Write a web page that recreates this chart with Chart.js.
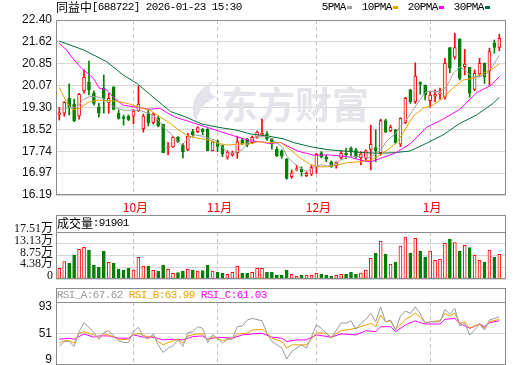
<!DOCTYPE html>
<html>
<head>
<meta charset="utf-8">
<title>同益中 688722</title>
<script src="https://cdn.jsdelivr.net/npm/chart.js@4.4.1/dist/chart.umd.min.js"></script>
<style>
  html, body { margin: 0; padding: 0; background: #fff; }
  #box { position: relative; width: 520px; height: 365px; overflow: hidden; }
  #box canvas { position: absolute; left: 0; }
</style>
</head>
<body>
<div id="box">
  <canvas id="priceChart" width="520" height="215" style="top:0px"></canvas>
  <canvas id="volChart" width="520" height="65" style="top:215px"></canvas>
  <canvas id="rsiChart" width="520" height="85" style="top:280px"></canvas>
</div>
<script>
// ===============================
// DATA
// ===============================
const open  = [19.05,19.09,19.62,19.42,19.00,19.88,20.21,19.82,19.30,19.98,
               19.47,20.03,19.09,18.95,18.99,18.99,19.18,18.54,19.11,18.76,
               18.91,18.70,17.87,17.90,18.24,17.96,17.81,18.44,18.44,18.52,
               18.53,17.76,18.11,17.94,17.53,17.61,17.69,18.14,18.17,18.05,
               18.24,18.33,18.36,18.17,17.81,17.76,17.46,16.84,17.08,17.10,
               16.88,16.93,17.19,17.69,17.53,17.37,17.23,17.51,17.67,17.85,
               17.79,17.51,17.49,17.81,17.87,17.69,18.83,18.47,18.50,17.99,
               18.76,19.92,19.50,20.18,20.09,19.54,19.70,19.77,19.66,21.42,
               21.08,21.73,20.74,20.72,19.94,20.48,20.86,20.60,21.59,21.43];
const high  = [19.30,19.50,20.13,19.59,19.80,20.63,20.94,19.89,19.44,20.45,
               19.80,20.03,19.21,19.03,19.03,19.23,20.06,19.06,19.23,19.11,
               18.99,18.71,18.05,18.26,18.26,18.02,18.38,18.52,18.61,18.55,
               18.55,18.11,18.14,17.97,17.76,17.75,18.28,18.20,18.20,18.28,
               18.47,18.88,18.44,18.20,17.90,17.79,17.49,17.08,17.25,17.19,
               17.02,17.25,17.67,17.73,17.61,17.40,17.37,17.76,17.85,17.90,
               17.85,17.73,17.79,18.67,18.50,18.88,18.88,18.67,18.52,18.93,
               19.66,19.94,20.88,20.21,20.09,19.86,19.92,19.98,21.04,21.42,
               21.93,21.73,21.36,20.72,20.63,21.04,20.88,21.40,21.69,21.90];
const low   = [18.85,18.99,19.03,18.79,18.88,19.80,19.74,19.38,18.95,19.09,
               19.09,19.21,18.88,18.67,18.83,18.71,19.15,18.42,18.64,18.71,
               18.61,17.69,17.61,17.88,18.05,17.51,17.76,18.26,18.40,18.32,
               17.76,17.75,17.73,17.55,17.46,17.57,17.49,17.97,17.90,18.02,
               18.20,18.32,18.13,17.82,17.55,17.49,16.75,16.78,17.05,16.86,
               16.84,16.88,16.96,17.51,17.37,17.17,17.14,17.46,17.49,17.57,
               17.49,17.26,17.37,17.08,17.37,17.61,18.40,18.44,18.02,17.90,
               18.73,19.44,19.44,19.77,19.56,19.30,19.50,19.59,19.59,20.53,
               21.01,20.27,20.45,19.66,19.89,20.41,20.15,20.09,21.22,21.31];
const close = [19.11,19.48,19.27,18.83,19.76,20.37,19.92,19.44,19.09,19.62,
               19.62,19.23,18.91,18.91,18.85,19.17,19.42,18.99,18.76,19.06,
               18.64,17.69,17.88,18.24,18.08,17.73,18.28,18.32,18.58,18.44,
               17.76,18.08,17.91,17.65,17.71,17.69,18.08,18.02,17.97,18.24,
               18.42,18.38,18.17,18.02,17.58,17.57,16.78,16.98,17.11,17.02,
               16.96,17.17,17.63,17.55,17.46,17.19,17.34,17.67,17.61,17.73,
               17.55,17.65,17.76,17.99,17.76,18.83,18.44,18.59,18.05,18.91,
               19.62,19.50,20.41,20.12,19.74,19.74,19.77,19.80,20.86,20.69,
               21.42,20.33,20.84,19.80,20.51,20.86,20.37,21.28,21.43,21.75];

// volume, in 万
const volume = [3.98,6.46,5.84,8.94,11.05,11.80,10.80,5.22,4.35,10.43,
                6.21,5.84,3.73,3.35,3.98,3.35,8.07,4.84,4.84,3.23,
                2.98,5.22,3.60,2.11,2.36,2.98,3.73,3.35,2.98,3.10,
                5.22,2.98,2.48,2.11,1.74,2.48,4.84,2.11,2.11,2.48,
                3.98,3.98,2.48,2.48,1.49,1.49,3.23,1.74,1.12,1.49,
                1.49,1.37,2.11,1.86,1.49,1.12,1.37,1.74,1.86,2.48,
                1.86,2.24,3.35,7.70,9.56,14.16,9.19,5.59,6.33,12.30,
                15.65,9.56,15.15,10.43,8.20,10.43,6.96,7.33,13.29,14.90,
                13.54,10.43,12.54,11.67,8.82,6.96,6.33,10.80,8.20,9.19];

// moving averages: [day index, price]
const ma5 = [[0,19.20],[1,19.27],[2.4,19.30],[3.7,19.30],[4.7,19.56],[6.1,19.68],[7.4,19.68],[8.8,19.62],
  [10.1,19.44],[11.2,19.30],[12.9,19.20],[14.9,19.20],[16.2,19.20],[17.6,19.11],[18.9,19.03],[20.3,18.79],
  [21.6,18.50],[22.7,18.35],[23.4,18.20],[24.7,17.96],[26.1,18.20],[27.5,18.32],[28.8,18.28],[30.2,18.20],
  [31.5,18.14],[32.9,17.90],[34.2,17.67],[35.6,17.69],[36.9,17.78],[38.3,18.08],[39.6,18.24],[41,18.26],
  [42.3,18.26],[43.7,18.08],[45.2,17.88],[46.1,17.55],[47.5,17.31],[48.8,17.14],[50.2,17.02],[51.5,17.19],
  [52.9,17.26],[54.2,17.22],[55.6,17.26],[56.9,17.43],[58.3,17.53],[59.6,17.55],[61,17.57],[62.4,17.49],
  [63.7,17.61],[65,17.79],[66.4,18.14],[68.1,18.38],[68.8,18.61],[70.2,18.85],[71.5,19.20],[72.9,19.56],
  [74.2,19.86],[75.6,19.86],[77,19.86],[78.3,20.03],[79.7,20.51],[81,20.74],[82,20.63],[83.4,20.39],
  [85.1,20.39],[86.4,20.48],[87.8,20.80],[89,21.15]];
const ma10 = [[0,20.01],[1.4,19.50],[2.7,19.21],[4.1,19.27],[6.1,19.50],[8.1,19.56],[10.1,19.54],[12.2,19.50],
  [14.2,19.42],[16.2,19.30],[18.3,19.20],[20.3,18.97],[22.7,18.70],[24.1,18.50],[26.1,18.28],[28.1,18.20],
  [30.2,18.14],[32.2,18.02],[34.2,17.96],[36.2,18.00],[38.3,18.00],[40.3,18.08],[42.3,18.05],[44.8,18.05],
  [46.8,17.79],[48.8,17.49],[50.9,17.26],[52.2,17.19],[54.2,17.19],[56.3,17.26],[58.3,17.34],[61,17.37],
  [63,17.43],[65,17.61],[68.1,18.02],[69.5,18.38],[71.5,18.97],[73.6,19.27],[75.6,19.38],[77.6,19.62],
  [79.6,19.98],[81.7,20.27],[83.7,20.33],[85.7,20.51],[87.8,20.69],[89,20.84]];
const ma20 = [[0,21.57],[1.5,21.33],[2.7,21.04],[4.5,20.69],[6.9,20.33],[8.1,19.98],[9.6,19.92],[10.8,19.68],
  [11.6,19.56],[12.9,19.38],[15,19.32],[18.4,19.23],[20.3,19.27],[21.8,19.11],[23.5,18.95],[25.3,18.85],
  [28.5,18.67],[31.9,18.48],[35.3,18.29],[38.7,18.11],[40.7,18.08],[42.3,18.02],[44.8,18.05],[48.2,17.75],
  [51.5,17.60],[54.9,17.61],[58.3,17.55],[61.7,17.40],[63,17.37],[65,17.49],[68.1,17.69],[71.1,18.02],
  [74.2,18.58],[77.9,18.91],[81,19.23],[84.4,19.82],[87.4,20.09],[89,20.39]];
const ma30 = [[0,21.65],[4.9,21.34],[9.6,20.92],[12.9,20.45],[15.7,20.15],[19.4,19.60],[22.5,19.15],[25.4,18.97],
  [28.8,18.71],[32.2,18.59],[35.6,18.50],[38.9,18.35],[42.3,18.28],[45.4,18.18],[47.4,18.05],[50.9,17.90],
  [54.2,17.80],[57.6,17.75],[61,17.70],[64.4,17.67],[67.7,17.69],[70.9,17.75],[74.2,18.02],[77.6,18.32],
  [81,18.73],[84.4,19.03],[87.8,19.45],[89,19.66]];

// RSI lines: [day index, value]
const rsiA = [[0,30.2],[1,37.9],[2,37.9],[3,30.2],[4,53.5],[5,67.5],[6,60.3],[7,51.9],[8,41.7],[9,51.9],
  [10,55],[11,46.8],[12,39],[13,36.4],[14,36.4],[15,53.5],[16,60.3],[17,45.7],[18,41.7],[19,49.9],
  [20,32.8],[21,20.8],[22,27.7],[23,31.3],[24,40.6],[25,30.2],[26,51.9],[27,53.5],[28,61.3],[29,58.8],
  [30,36.4],[31,48.4],[32,43.2],[33,35.5],[34,41.7],[35,41.7],[36,61.3],[37,62.4],[38,71.7],[39,74.3],
  [41,70.6],[42,51],[43,37.9],[45,27.7],[46,10.6],[47,22.4],[49,32.8],[50,27.7],[52,63.9],[53,58.8],
  [55,43.2],[57,67.5],[58,66.6],[59,70.6],[60,57.2],[61,66.6],[62,72.8],[63,82.1],[64,69],[65,92.4],
  [66,69],[67,71.7],[68,56.1],[69,77.9],[70,86.1],[71,82.1],[72,92.4],[73,82.1],[74,66.6],[75,69],
  [77,69],[78,88.3],[79,81],[80,89.9],[81,62.4],[82,66.6],[83,48.4],[84,56.1],[85,65.5],[86,56.1],
  [87,71.7],[89,76.8]];
const rsiB = [[0,35.5],[1,39.5],[2,39.5],[3,35.5],[4,51],[5,53.5],[7,48.4],[8,43.2],[9,49.9],[11,45.7],
  [12,40.6],[14,41.7],[15,48.4],[16,51],[18,44.8],[19,46.8],[20,37.9],[21,32.8],[22,36.4],[24,41.7],
  [25,35.5],[26,46.8],[28,49.9],[29,49.9],[30,40.6],[31,45.7],[33,39.5],[35,43.2],[36,49.9],[38,51],
  [39,56.1],[41,57.2],[42,51.9],[43,43.2],[45,37.9],[46,27.7],[47,32.8],[50,32.8],[52,51.9],[54,51],
  [55,44.8],[57,55],[59,57.2],[61,61.3],[63,66.6],[64,61.3],[65,79.5],[66,69],[67,70.6],[68,57.2],
  [70,72.8],[71,76.8],[72,83],[73,75.9],[74,67.5],[75,69],[77,70.6],[78,82.1],[79,77.9],[80,83],
  [81,66.6],[82,69],[83,58.8],[85,65.5],[86,58.8],[87,69],[89,72.8]];
const rsiC = [[0,41.7],[2,43.2],[3,41.7],[5,49.9],[7,44.8],[8,46.8],[10,46.8],[12,43.2],[14,43.2],[15,48.4],
  [17,44.8],[19,44.8],[21,40.6],[23,41.7],[25,40.6],[27,45.7],[29,46.8],[30,41.7],[32,44.8],[35,43.2],
  [37,48.4],[39,49.9],[41,51],[43,44.8],[45,43.2],[46,37.9],[48,40.6],[50,40.6],[52,48.4],[55,44.8],
  [57,49.9],[60,48.4],[62,55],[64,53.5],[65,61.3],[67,61.3],[68,53.5],[70,63.9],[72,70.6],[73,67.5],
  [74,65.5],[77,65.5],[78,72.8],[80,74.3],[81,66.6],[83,58.8],[85,65.5],[86,61.3],[87,67.5],[89,70.6]];

// axis ticks / labels
const priceTicks = [16.19,16.97,17.74,18.52,19.30,20.07,20.85,21.62,22.40];
const volTicks   = [0,4.38,8.75,13.13,17.51];
const rsiTicks   = [9,51,93];
const monthIdx   = [15,32,52,75];
const monthNames = ["10月","11月","12月","1月"];
const maNames    = ["5PMA","10PMA","20PMA","30PMA"];
const rsiLabels  = ["RSI_A:67.62","RSI_B:63.99","RSI_C:61.03"];
const titleText  = "同益中[688722] 2026-01-23 15:30";
const volText    = "成交量:91901";

// ===============================
// STYLE
// ===============================
const RED = "#ff0000", GREEN = "#008000";
const maColors  = ["#a0a0a0","#f0a000","#ff00ff","#006f3a"];
const rsiColors = ["#999999","#f0a000","#ff00ff"];
const FRAME = "#8c8c8c", GRID = "#d6d6d6", DASH = "#c4c4c4";
const X_MIN = -0.667, X_MAX = 90.35;

Chart.defaults.font.family = "'Liberation Sans', Arial, sans-serif";
Chart.defaults.font.size = 12;
Chart.defaults.color = "#111";

const up = close.map((c, i) => c >= open[i]);
const toXY = arr => arr.map(p => ({ x: p[0], y: p[1] }));

// SimSun-like fixed pitch text: 6px ascii, 12px cjk
function drawMono(ctx, str, x, y, color) {
  ctx.save();
  ctx.fillStyle = color;
  ctx.textBaseline = "middle";
  ctx.textAlign = "center";
  for (const ch of str) {
    const wide = ch.charCodeAt(0) > 255;
    const w = wide ? 12 : 6;
    ctx.font = wide ? "12px 'Noto Sans CJK SC'" : "11px 'Liberation Mono'";
    ctx.fillText(ch, x + w / 2, y);
    x += w;
  }
  ctx.restore();
  return x;
}

function framePlugin(headerTop) {
  return {
    id: "frame",
    afterDraw(chart) {
      const { ctx, chartArea: a } = chart;
      const l = Math.round(a.left) + 0.5, r = Math.round(a.right) - 0.5;
      const t = Math.round(a.top) + 0.5, b = Math.round(a.bottom) - 0.5;
      ctx.save();
      ctx.strokeStyle = FRAME;
      ctx.lineWidth = 1;
      ctx.strokeRect(l, t, r - l, b - t);
      if (headerTop != null) ctx.strokeRect(l, headerTop + 0.5, r - l, t - headerTop - 0.5);
      ctx.restore();
    }
  };
}

function xAxis(showLabels) {
  return {
    type: "linear", min: X_MIN, max: X_MAX, offset: false,
    afterBuildTicks: s => { s.ticks = monthIdx.map(v => ({ value: v })); },
    afterFit: s => { s.height = showLabels ? 20 : 0; s.paddingLeft = 0; s.paddingRight = 0; },
    grid: { color: DASH, drawTicks: false, offset: false },
    border: { display: false, dash: [4, 3] },
    ticks: {
      display: showLabels, autoSkip: false, maxRotation: 0, padding: 5, labelOffset: 2,
      color: RED, font: { family: "'Noto Sans CJK SC'", size: 12 },
      callback: (v, i) => monthNames[i]
    }
  };
}

function yAxis(min, max, ticks, extra) {
  return Object.assign({
    min: min, max: max,
    afterBuildTicks: s => { s.ticks = ticks.map(v => ({ value: v })); },
    // fixed width, and no extra room for the end labels
    afterFit: s => { s.width = 56; s.paddingTop = 0; s.paddingBottom = 0; },
    grid: { color: GRID, drawTicks: false },
    border: { display: false }
  }, extra);
}

const baseOpts = {
  responsive: false, animation: false, devicePixelRatio: 1,
  plugins: { legend: { display: false }, tooltip: { enabled: false } }
};

// ===============================
// PRICE PANEL
// ===============================
const pricePlugins = [{
  id: "watermark",
  beforeDatasetsDraw(chart) {
    const ctx = chart.ctx;
    ctx.save();
    ctx.fillStyle = "#e4e4ea";
    ctx.beginPath();
    ctx.moveTo(215, 80);
    ctx.quadraticCurveTo(184, 96, 196, 123);
    ctx.quadraticCurveTo(199, 104, 217, 97);
    ctx.quadraticCurveTo(203, 92, 215, 80);
    ctx.fill();
    ctx.font = "bold 37px 'Noto Sans CJK SC'";
    ctx.textBaseline = "middle";
    ctx.fillText("东方财富", 221, 105);
    ctx.restore();
  },
  afterDraw(chart) {
    const ctx = chart.ctx;
    drawMono(ctx, titleText, 56, 7.5, "#000");
    let x = 322;
    maNames.forEach((name, k) => {
      x = drawMono(ctx, name, x, 7.5, "#000");
      ctx.fillStyle = maColors[k];
      ctx.fillRect(x + 1, 6, 5, 3);
      x += 16;
    });
  }
}, framePlugin(null)];

new Chart(document.getElementById("priceChart"), {
  type: "bar",
  data: {
    datasets: [
      {
        label: "wick", order: 2, grouped: false, barThickness: 1,
        data: close.map((c, i) => ({ x: i, y: [low[i], high[i]] })),
        backgroundColor: up.map(u => u ? RED : GREEN)
      },
      {
        label: "body", order: 1, grouped: false, barThickness: 3, minBarLength: 1,
        data: close.map((c, i) => ({ x: i, y: [open[i], c] })),
        backgroundColor: up.map(u => u ? "#ffffff" : GREEN),
        borderColor: up.map(u => u ? RED : GREEN),
        borderWidth: 1, borderSkipped: false
      },
      ...[ma5, ma10, ma20, ma30].map((m, k) => ({
        type: "line", label: maNames[k], order: 0,
        data: toXY(m), borderColor: maColors[k], borderWidth: 1,
        pointRadius: 0, tension: 0
      }))
    ]
  },
  options: {
    ...baseOpts,
    layout: { padding: { left: 0, right: 14, top: 20, bottom: 0 } },
    scales: {
      x: xAxis(true),
      y: yAxis(16.19, 22.40, priceTicks, {
        ticks: { padding: 4, color: "#111", autoSkip: false, callback: v => v.toFixed(2) }
      })
    }
  },
  plugins: pricePlugins
});

// ===============================
// VOLUME PANEL
// ===============================
new Chart(document.getElementById("volChart"), {
  type: "bar",
  data: {
    datasets: [{
      label: "volume", grouped: false, barThickness: 3,
      data: volume.map((v, i) => ({ x: i, y: v })),
      backgroundColor: up.map(u => u ? "#ffffff" : GREEN),
      borderColor: up.map(u => u ? RED : GREEN),
      borderWidth: 1, borderSkipped: false
    }]
  },
  options: {
    ...baseOpts,
    layout: { padding: { left: 0, right: 14, top: 17, bottom: 1 } },
    scales: {
      x: xAxis(false),
      y: yAxis(0, 17.51, volTicks, {
        ticks: {
          padding: 3, labelOffset: -3, color: "#111", autoSkip: false,
          font: { family: "'Liberation Serif', 'Noto Sans CJK SC'", size: 12 },
          callback: v => v === 0 ? "0" : v.toFixed(2) + "万"
        }
      })
    }
  },
  plugins: [{
    id: "volHead",
    afterDraw(chart) { drawMono(chart.ctx, volText, 57, 8.5, "#000"); }
  }, framePlugin(0)]
});

// ===============================
// RSI PANEL
// ===============================
new Chart(document.getElementById("rsiChart"), {
  type: "line",
  data: {
    datasets: [rsiA, rsiB, rsiC].map((r, k) => ({
      label: rsiLabels[k], data: toXY(r), borderColor: rsiColors[k],
      borderWidth: 1, pointRadius: 0, tension: 0
    }))
  },
  options: {
    ...baseOpts,
    layout: { padding: { left: 0, right: 14, top: 22, bottom: 0 } },
    scales: {
      x: xAxis(false),
      y: yAxis(1.15, 100.06, rsiTicks, {
        grid: { color: c => (c.tick && c.tick.value === 51) ? GRID : "rgba(0,0,0,0)", drawTicks: false },
        ticks: { padding: 4, color: "#111", autoSkip: false, callback: v => String(v) }
      })
    }
  },
  plugins: [{
    id: "rsiHead",
    afterDraw(chart) {
      let x = 57;
      rsiLabels.forEach((t, k) => { x = drawMono(chart.ctx, t, x, 15, rsiColors[k]) + 6; });
    }
  }, framePlugin(8)]
});
</script>
</body>
</html>
